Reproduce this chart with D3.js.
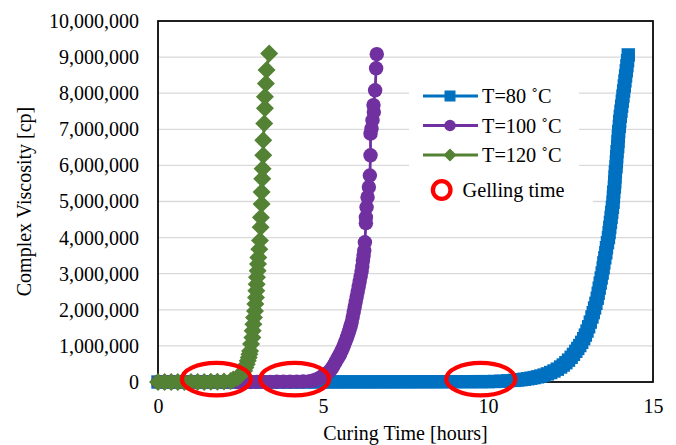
<!DOCTYPE html>
<html><head><meta charset="utf-8">
<script src="https://cdn.jsdelivr.net/npm/d3@7"></script>
<style>
body{margin:0;background:#fff}
svg{display:block}
text{font-family:"Liberation Serif","Times New Roman",serif;fill:#000}
</style>
</head><body>
<svg id="chart" width="676" height="445"></svg>
<script>
// ---------- data ----------
const seriesNames = ["T=80 \u02DAC", "T=100 \u02DAC", "T=120 \u02DAC"];
const gelLabel = "Gelling time";
const xTicks = [0, 5, 10, 15];
const yTicks = [0, 1000000, 2000000, 3000000, 4000000, 5000000, 6000000, 7000000, 8000000, 9000000, 10000000];
const xTitle = "Curing Time [hours]";
const yTitle = "Complex Viscosity [cp]";

// T = 80 ˚C : time [h]
const t80 = [0,0.2,0.4,0.6,0.8,1,1.2,1.4,1.6,1.8,2,2.2,2.4,2.6,2.8,3,3.2,3.4,3.6,3.8,
  4,4.2,4.4,4.6,4.8,5,5.2,5.4,5.6,5.8,6,6.2,6.4,6.6,6.8,7,7.2,7.4,7.6,7.8,
  8,8.2,8.4,8.6,8.8,9,9.2,9.4,9.6,9.8,10,10.2,10.4,10.6,
  10.8,10.9,11.0,11.1,11.2,11.3,11.4,11.5,11.6,11.7,11.8,11.9,12.0,12.1,12.2,12.28,12.36,12.44,12.52,12.59,
  12.66,12.72,12.78,12.84,12.9,12.95,13.0,13.05,13.1,13.15,13.19,13.23,13.27,13.31,
  13.34,13.37,13.4,13.43,13.46,13.49,13.51,13.54,13.57,13.59,13.62,13.65,
  13.67,13.69,13.71,13.73,13.75,13.77,13.79,13.8,13.81,13.83,13.84,13.85,13.86,13.88,13.89,13.9,
  13.91,13.93,13.94,13.95,13.96,13.98,13.99,14.01,14.03,14.05,14.07,14.09,14.11,14.13,14.15,14.17,
  14.19,14.21,14.23,14.25];
// T = 80 ˚C : viscosity [cp]
const v80 = [0,0,0,0,0,0,0,0,0,0,0,0,500,500,500,500,1000,1000,1000,1000,
  1500,1500,1500,2000,2000,2000,2500,2500,3000,3000,3000,3500,3500,4000,4000,4500,5000,5000,5500,6000,
  6500,7000,7000,7500,8000,8500,9000,9000,9500,10000,10000,15000,22000,32000,
  45000,54000,65000,76000,90000,105000,122000,142000,165000,192000,225000,262000,305000,355000,415000,470000,535000,605000,685000,765000,
  850000,930000,1010000,1100000,1200000,1300000,1410000,1530000,1660000,1800000,1920000,2050000,2180000,2320000,
  2460000,2600000,2740000,2880000,3020000,3160000,3300000,3440000,3580000,3720000,3860000,4000000,
  4140000,4280000,4420000,4560000,4700000,4840000,4980000,5120000,5260000,5400000,5540000,5680000,5820000,5960000,6100000,6240000,
  6380000,6520000,6660000,6800000,6940000,7080000,7220000,7360000,7500000,7640000,7780000,7920000,8060000,8200000,8340000,8480000,
  8620000,8760000,8900000,9060000];

// T = 100 ˚C
const t100 = [0,0.2,0.4,0.6,0.8,1,1.2,1.4,1.6,1.8,2,2.2,2.4,2.6,2.8,3,3.2,3.4,3.6,3.8,
  4,4.2,4.4,4.6,4.71,4.8,4.88,4.96,5.03,5.1,5.16,5.21,5.26,5.31,5.36,5.41,5.45,5.49,5.52,5.56,
  5.6,5.64,5.68,5.72,5.75,5.78,5.81,5.84,5.87,5.9,5.93,5.96,5.99,6.02,6.05,6.08,6.11,6.14,6.17,6.19,
  6.21,6.23,6.25,6.27,6.3,6.3,6.32,6.35,6.39,6.42,6.44,6.44,6.47,6.5,6.54,6.53,6.58,6.61,6.63];
const v100 = [0,0,0,0,0,0,0,0,0,500,500,1000,1000,1500,2000,2500,3000,4000,5000,6000,
  8000,11000,15000,25000,40000,70000,100000,150000,190000,230000,270000,310000,370000,440000,520000,600000,670000,730000,780000,860000,
  940000,1030000,1120000,1220000,1300000,1380000,1470000,1560000,1660000,1800000,1940000,2080000,2220000,2360000,2500000,2640000,2780000,2920000,3060000,3200000,
  3360000,3500000,3640000,3870000,4400000,4560000,4840000,5120000,5400000,5720000,6280000,6880000,7020000,7250000,7480000,7670000,8080000,8690000,9080000];

// T = 120 ˚C
const t120 = [0,0.2,0.4,0.6,0.8,1,1.2,1.4,1.6,1.8,2,2.2,2.28,2.4,2.48,2.55,2.61,2.65,2.69,2.72,
  2.75,2.77,2.79,2.82,2.86,2.87,2.89,2.91,2.94,2.95,2.97,2.98,2.99,3,3.02,3.03,3.04,3.07,3.09,3.11,
  3.12,3.14,3.14,3.16,3.17,3.19,3.19,3.22,3.24,3.24,3.27,3.29,3.37];
const v120 = [0,0,0,0,0,1000,2000,3000,5000,8000,15000,30000,70000,120000,170000,240000,310000,400000,490000,590000,
  680000,770000,860000,1050000,1230000,1420000,1600000,1790000,1970000,2160000,2340000,2530000,2710000,2900000,3080000,3270000,3450000,3680000,3920000,4290000,
  4560000,4930000,5260000,5630000,5910000,6280000,6700000,7160000,7580000,7900000,8270000,8640000,9100000];

// gelling-time annotations (hours, cp)
const gelTimes = [1.77, 4.14, 9.78];
const gelValues = [80000, 80000, 80000];

// ---------- styling ----------
const colors = ["#0070C0", "#7030A0", "#548235"];
const shapes = ["square", "circle", "diamond"];
const series = [
  {name: seriesNames[0], t: t80, v: v80},
  {name: seriesNames[1], t: t100, v: v100},
  {name: seriesNames[2], t: t120, v: v120}
].map((s, i) => ({...s, color: colors[i], shape: shapes[i],
   pts: s.t.map((tt, j) => ({t: tt, v: s.v[j]}))}));

const svg = d3.select("#chart");
const W = 676, H = 445;
const x = d3.scaleLinear().domain([0, 15]).range([158, 653]);
const y = d3.scaleLinear().domain([0, 10000000]).range([382, 21]);

svg.append("rect").attr("width", W).attr("height", H).attr("fill", "#fff");

// gridlines
svg.append("g").selectAll("line")
  .data(yTicks.filter(d => d > 0 && d < 10000000))
  .join("line")
  .attr("x1", x(0)).attr("x2", x(15))
  .attr("y1", d => y(d)).attr("y2", d => y(d))
  .attr("stroke", "#d9d9d9").attr("stroke-width", 1.3);

// plot border
svg.append("rect")
  .attr("x", x(0)).attr("y", y(10000000))
  .attr("width", x(15) - x(0)).attr("height", y(0) - y(10000000))
  .attr("fill", "none").attr("stroke", "#000").attr("stroke-width", 1.75);

// axes labels
const yAxis = svg.append("g").attr("transform", `translate(${x(0)},0)`)
  .call(d3.axisLeft(y).tickValues(yTicks).tickFormat(d3.format(",")).tickSize(0).tickPadding(19));
yAxis.select(".domain").remove();
yAxis.selectAll("text").attr("font-size", 20).attr("fill", "#000");

const xAxis = svg.append("g").attr("transform", `translate(0,${y(0)})`)
  .call(d3.axisBottom(x).tickValues(xTicks).tickFormat(d3.format("d")).tickSize(0).tickPadding(17));
xAxis.select(".domain").remove();
xAxis.selectAll("text").attr("font-size", 20).attr("fill", "#000");

// titles
svg.append("text").attr("x", (x(0) + x(15)) / 2).attr("y", 439.5)
  .attr("text-anchor", "middle").attr("font-size", 20).text(xTitle);
svg.append("text").attr("transform", `translate(31,${(y(0) + y(10000000)) / 2}) rotate(-90)`)
  .attr("text-anchor", "middle").attr("font-size", 20).text(yTitle);

// marker path generator
function markerPath(shape, s) {
  if (shape === "square") return `M${-s},${-s}H${s}V${s}H${-s}Z`;
  if (shape === "diamond") return `M0,${-s}L${s},0L0,${s}L${-s},0Z`;
  return `M${s},0A${s},${s} 0 1,1 ${-s},0A${s},${s} 0 1,1 ${s},0Z`;
}
const markerSize = {square: 6.7, circle: 7.2, diamond: 9};

const line = d3.line().x(d => x(d.t)).y(d => y(d.v));
series.forEach(s => {
  const g = svg.append("g");
  g.append("path").datum(s.pts).attr("d", line)
    .attr("fill", "none").attr("stroke", s.color).attr("stroke-width", 2.8);
  g.selectAll("path.m").data(s.pts).join("path").attr("class", "m")
    .attr("transform", d => `translate(${x(d.t)},${y(d.v)})`)
    .attr("d", markerPath(s.shape, markerSize[s.shape]))
    .attr("fill", s.color);
});

// gelling-time ellipses
svg.append("g").selectAll("ellipse")
  .data(gelTimes.map((t, i) => ({t, v: gelValues[i]})))
  .join("ellipse")
  .attr("cx", d => x(d.t)).attr("cy", d => y(d.v))
  .attr("rx", 34.5).attr("ry", 16.3)
  .attr("fill", "none").attr("stroke", "#ff0000").attr("stroke-width", 4.3);

// legend
svg.append("rect").attr("x", 409).attr("y", 76).attr("width", 170).attr("height", 100).attr("fill", "#fff");
svg.append("rect").attr("x", 400).attr("y", 174).attr("width", 193).attr("height", 32).attr("fill", "#fff");
const legY = [96, 125.5, 155];
const legMarker = {square: 5.5, circle: 5.7, diamond: 6.5};
series.forEach((s, i) => {
  const g = svg.append("g").attr("transform", `translate(0,${legY[i]})`);
  g.append("line").attr("x1", 423).attr("x2", 478).attr("y1", 0).attr("y2", 0)
    .attr("stroke", s.color).attr("stroke-width", 3.2);
  g.append("path").attr("transform", "translate(450,0)")
    .attr("d", markerPath(s.shape, legMarker[s.shape])).attr("fill", s.color);
  g.append("text").attr("x", 482).attr("y", 0).attr("dy", "0.35em")
    .attr("font-size", 20.3).text(s.name);
});
svg.append("circle").attr("cx", 441.7).attr("cy", 190).attr("r", 8.8)
  .attr("fill", "none").attr("stroke", "#ff0000").attr("stroke-width", 4.3);
svg.append("text").attr("x", 462.5).attr("y", 190).attr("dy", "0.35em")
  .attr("font-size", 20.3).text(gelLabel);
</script>
</body></html>
